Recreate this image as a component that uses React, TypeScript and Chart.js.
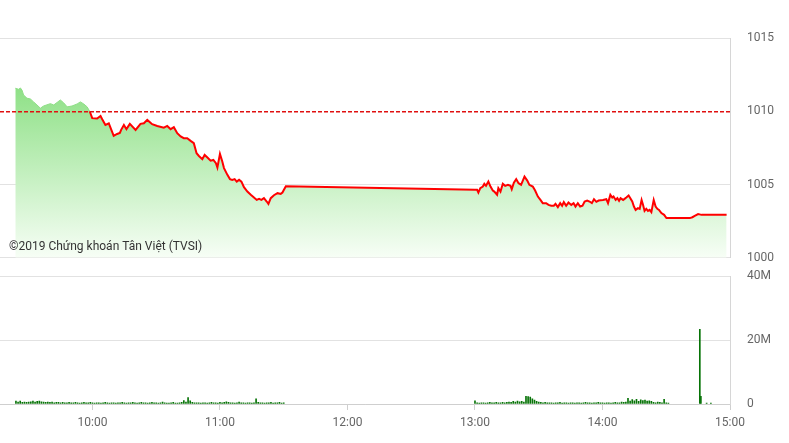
import React, { useEffect, useRef } from "react";
import { Chart, registerables } from "chart.js";

Chart.register(...registerables);

// ---- data ----
const REF_PRICE = 1010;
const X_MIN = 556.5; // minutes after midnight (left edge of plot)
const X_MAX = 900; // 15:00
const hourTicks = [600, 660, 720, 780, 840, 900];
const priceTicks = [1000, 1005, 1010, 1015];
const volTicks = [0, 20, 40];
const WATERMARK = "©2019 Chứng khoán Tân Việt (TVSI)";

// time in minutes after midnight
const priceTimes = [
  563.7, 565.3, 566.1, 566.9, 567.6, 569.2, 570.8, 572.3, 573.9, 575.5, 577.0, 580.2, 581.8, 584.9,
  586.5, 588.1, 590.4, 592.8, 594.3, 595.9, 597.5, 598.7,
  599.9, 602.2, 603.8, 604.6, 606.1, 607.7, 610.0, 611.6, 612.9, 613.5, 614.8, 616.0, 617.6, 620.3,
  622.6, 624.2, 625.8, 628.1, 630.5, 633.6, 635.2, 636.8, 638.3, 639.9, 641.5, 643.0, 644.6, 646.2,
  647.7, 649.0, 650.1, 651.7, 652.8, 654.1, 655.6, 656.9, 658.1, 658.8, 660.0, 661.1, 661.9, 663.5,
  664.7, 665.8, 666.9, 667.9, 669.0, 670.1, 671.3, 672.9, 674.5, 676.0, 677.3, 678.4, 679.5, 680.7,
  682.0, 682.8, 683.9, 685.4, 687.1, 688.6, 689.4, 691.0,
  780.0, 781.0, 781.6, 782.5, 783.7, 784.4, 785.2, 786.3, 787.3, 788.4, 789.1, 790.4, 791.0, 792.0,
  793.1, 794.2, 795.5, 796.7, 797.3, 798.3, 799.4, 800.5, 801.7, 803.3, 804.6, 805.6, 807.2, 808.3,
  809.6, 810.8, 811.9, 813.5, 814.6, 815.9, 817.1, 817.9, 819.0, 820.1, 821.0, 821.8, 822.9, 824.0,
  825.3, 826.4, 827.3, 828.4, 829.5, 830.6, 831.6, 832.8, 833.9, 835.0, 836.0, 837.1, 838.2, 840.2,
  841.8, 842.6, 843.7, 844.6, 845.2, 846.2, 847.0, 847.8, 848.5, 849.7, 850.4, 851.2, 852.3, 853.1,
  854.0, 854.8, 855.6, 856.7, 857.5, 858.4, 859.1, 859.8, 860.6, 861.4, 862.2, 863.0, 864.1, 865.0,
  865.8, 866.6, 867.7, 869.0, 870.1, 871.6, 881.1, 882.3, 883.4, 885.0, 886.6, 898.4,
];

const priceValues = [
  1011.57, 1011.5, 1011.59, 1011.43, 1011.11, 1010.89, 1010.84, 1010.64, 1010.43, 1010.21, 1010.36, 1010.52, 1010.43, 1010.77,
  1010.57, 1010.3, 1010.36, 1010.5, 1010.64, 1010.5, 1010.3, 1010.0,
  1009.53, 1009.5, 1009.68, 1009.46, 1009.07, 1009.18, 1008.32, 1008.45, 1008.52, 1008.73, 1009.07, 1008.78, 1009.14, 1008.73,
  1009.14, 1009.18, 1009.41, 1009.12, 1009.0, 1008.88, 1009.0, 1008.78, 1008.91, 1008.5, 1008.28, 1008.16, 1008.16, 1007.98,
  1007.82, 1007.14, 1006.95, 1006.73, 1007.02, 1006.84, 1006.63, 1006.68, 1006.46, 1006.16, 1007.09, 1006.57, 1006.12, 1005.66,
  1005.37, 1005.32, 1005.37, 1005.2, 1005.32, 1005.2, 1004.82, 1004.52, 1004.3, 1004.11, 1003.95, 1004.02, 1003.95, 1004.07,
  1003.84, 1003.68, 1004.07, 1004.27, 1004.41, 1004.36, 1004.45, 1004.88,
  1004.64, 1004.64, 1004.45, 1004.75, 1004.86, 1005.05, 1004.91, 1005.2, 1004.86, 1004.59, 1004.52, 1004.3, 1004.75, 1004.52,
  1005.05, 1004.91, 1004.98, 1004.91, 1004.68, 1005.13, 1005.37, 1005.09, 1004.98, 1005.54, 1005.27, 1004.98, 1004.86, 1004.59,
  1004.18, 1003.95, 1003.73, 1003.73, 1003.61, 1003.55, 1003.55, 1003.68, 1003.46, 1003.73, 1003.55, 1003.8, 1003.55, 1003.77,
  1003.61, 1003.73, 1003.5, 1003.73, 1003.5, 1003.55, 1003.84, 1003.91, 1003.84, 1003.73, 1004.0, 1003.82, 1003.91, 1003.95,
  1004.0, 1003.73, 1004.3, 1004.11, 1004.18, 1003.95, 1004.07, 1003.89, 1004.07, 1003.95, 1004.02, 1004.11, 1004.25, 1004.07,
  1003.84, 1003.5, 1003.27, 1003.39, 1003.34, 1003.95, 1003.61, 1003.2, 1003.34, 1003.2, 1003.27, 1003.12, 1003.95, 1003.5,
  1003.34, 1003.27, 1003.05, 1002.93, 1002.71, 1002.71, 1002.71, 1002.77, 1002.86, 1002.98, 1002.93, 1002.93,
];

// volume per minute, in millions
const volMorningStart = 564; // 09:24
const volMorning = [
  0.9, 0.6, 0.9, 0.5, 0.6, 0.5, 0.6, 0.7, 0.9, 0.6, 0.8, 0.9,
  0.7, 0.6, 0.5, 0.6, 0.5, 0.6, 0.4, 0.5, 0.5, 0.4, 0.5, 0.4,
  0.4, 0.5, 0.4, 0.4, 0.5, 0.4, 0.3, 0.4, 0.5, 0.4, 0.4, 0.5,
  0.4, 0.3, 0.4, 0.4, 0.3, 0.4, 0.5, 0.4, 0.3, 0.4, 0.4, 0.3,
  0.4, 0.4, 0.5, 0.4, 0.3, 0.4, 0.4, 0.5, 0.4, 0.3, 0.4, 0.5,
  0.4, 0.4, 0.3, 0.4, 0.5, 0.4, 0.4, 0.3, 0.4, 0.6, 0.4, 0.3,
  0.3, 0.4, 0.5, 0.3, 0.3, 0.4, 0.5, 1.1, 0.6, 2.0, 1.0, 0.5,
  0.4, 0.4, 0.4, 0.3, 0.4, 0.4, 0.3, 0.4, 0.5, 0.4, 0.4, 0.3,
  0.5, 0.4, 0.5, 0.7, 0.5, 0.4, 0.4, 0.3, 0.4, 0.6, 0.4, 0.4,
  0.3, 0.4, 0.4, 0.3, 0.4, 1.6, 0.5, 0.4, 0.4, 0.3, 0.4, 0.4,
  0.5, 0.3, 0.4, 0.4, 0.5, 0.3, 0.4,
];
const volAfternoonStart = 780; // 13:00
const volAfternoon = [
  1.0, 0.4, 0.3, 0.4, 0.4, 0.3, 0.4, 0.5, 0.4, 0.4, 0.5, 0.4,
  0.4, 0.5, 0.4, 0.5, 0.6, 0.5, 0.8, 0.6, 0.9, 0.7, 0.8, 0.6,
  2.4, 2.3, 2.2, 1.6, 1.2, 0.8, 0.6, 0.5, 0.4, 0.5, 0.4, 0.4,
  0.4, 0.3, 0.4, 0.4, 0.5, 0.3, 0.4, 0.4, 0.3, 0.4, 0.4, 0.3,
  0.4, 0.4, 0.3, 0.4, 0.5, 0.4, 0.4, 0.3, 0.4, 0.4, 0.5, 0.4,
  0.4, 0.3, 0.4, 0.4, 0.3, 0.4, 0.5, 0.4, 0.4, 0.6, 0.5, 0.6,
  1.8, 0.9, 1.4, 1.0, 1.5, 0.8, 1.3, 1.1, 1.2, 0.9, 1.0, 0.8,
  0.5, 0.4, 0.6, 0.5, 0.4, 1.5, 0.4, 0.3,
];
const volAtcTimes = [885.8, 886.3, 889, 891];
const volAtc = [23.4, 2.4, 0.3, 0.3];

// ---- helpers ----
const fmtTime = (v: number) => `${Math.floor(v / 60)}:${String(Math.round(v % 60)).padStart(2, "0")}`;
const FONT = { family: "Roboto", size: 12 };
const TICK_COLOR = "#666";
const GRID_COLOR = "#e2e2e2";
const BORDER_COLOR = "#d6d6d6";
const AXIS_W = 59;

const pricePoints = priceTimes.map((t, i) => ({ x: t, y: priceValues[i] }));
const volPoints = [
  ...volMorning.map((v, i) => ({ x: volMorningStart + i, y: v })),
  ...volAfternoon.map((v, i) => ({ x: volAfternoonStart + i, y: v })),
  ...volAtc.map((v, i) => ({ x: volAtcTimes[i], y: v })),
];

const overlayPlugin = {
  id: "overlay",
  afterDatasetsDraw(chart: any) {
    const { ctx, chartArea, scales } = chart;
    const y = scales.y.getPixelForValue(REF_PRICE) + 0.5;
    ctx.save();
    ctx.strokeStyle = "#e01010";
    ctx.lineWidth = 1.5;
    ctx.setLineDash([4, 2]);
    ctx.beginPath();
    ctx.moveTo(chartArea.left, y);
    ctx.lineTo(chartArea.right, y);
    ctx.stroke();
    ctx.setLineDash([]);
    ctx.fillStyle = "#333";
    ctx.font = "12px Roboto";
    ctx.textBaseline = "middle";
    ctx.textAlign = "left";
    ctx.fillText(WATERMARK, 9, 247);
    ctx.restore();
  },
};

export default function App() {
  const topRef = useRef<HTMLCanvasElement>(null);
  const botRef = useRef<HTMLCanvasElement>(null);

  useEffect(() => {
    const top = new Chart(topRef.current!, {
      type: "line",
      data: {
        datasets: [
          {
            // price line, green above the reference price, red below
            data: pricePoints,
            borderWidth: 2,
            pointRadius: 0,
            tension: 0,
            fill: false,
            borderColor: "#ff0000",
            segment: {
              borderColor: (c: any) =>
                c.p0.parsed.y >= REF_PRICE && c.p1.parsed.y >= REF_PRICE ? "#8ede86" : "#ff0000",
              borderWidth: (c: any) =>
                c.p0.parsed.y >= REF_PRICE && c.p1.parsed.y >= REF_PRICE ? 1 : 2,
            },
          } as any,
          {
            // area under the price line
            data: pricePoints,
            borderWidth: 0,
            pointRadius: 0,
            tension: 0,
            fill: "start",
            borderColor: "rgba(0,0,0,0)",
            backgroundColor: (c: any) => {
              const ca = c.chart.chartArea;
              if (!ca) return "rgba(140,225,130,0.5)";
              const g = c.chart.ctx.createLinearGradient(0, ca.top, 0, ca.bottom);
              g.addColorStop(0, "rgb(112,216,102)");
              g.addColorStop(1, "rgb(247,254,246)");
              return g;
            },
          } as any,
        ],
      },
      options: {
        animation: false,
        responsive: false,
        events: [],
        layout: { padding: { top: 38, bottom: 0, left: 0, right: 0 } },
        plugins: { legend: { display: false }, tooltip: { enabled: false } },
        scales: {
          x: { type: "linear", min: X_MIN, max: X_MAX, display: false },
          y: {
            position: "right",
            min: 1000,
            max: 1015,
            afterBuildTicks: (s: any) => {
              s.ticks = priceTicks.map((v) => ({ value: v }));
            },
            afterFit: (s: any) => {
              s.width = AXIS_W;
            },
            grid: {
              color: (c: any) => (c.tick && c.tick.value === REF_PRICE ? "rgba(0,0,0,0)" : GRID_COLOR),
              drawTicks: false,
            },
            border: { display: true, color: BORDER_COLOR },
            ticks: {
              padding: 17,
              color: TICK_COLOR,
              font: FONT,
              callback: (v: any) => String(v),
            },
          },
        },
      } as any,
      plugins: [overlayPlugin],
    });

    const bot = new Chart(botRef.current!, {
      type: "bar",
      data: {
        datasets: [
          {
            data: volPoints,
            backgroundColor: "#077307",
            borderWidth: 0,
            barThickness: 1,
          } as any,
        ],
      },
      options: {
        animation: false,
        responsive: false,
        events: [],
        layout: { padding: { top: 0, bottom: 0, left: 0, right: 0 } },
        plugins: { legend: { display: false }, tooltip: { enabled: false } },
        scales: {
          x: {
            type: "linear",
            min: X_MIN,
            max: X_MAX,
            offset: false,
            afterBuildTicks: (s: any) => {
              s.ticks = hourTicks.map((v) => ({ value: v }));
            },
            afterFit: (s: any) => {
              s.height = 39;
            },
            grid: {
              offset: false,
              drawOnChartArea: false,
              drawTicks: true,
              tickLength: 6,
              color: "#cfcfcf",
            },
            border: { display: true, color: "#cfcfcf" },
            ticks: {
              padding: 6,
              color: TICK_COLOR,
              font: FONT,
              maxRotation: 0,
              autoSkip: false,
              callback: (v: any) => fmtTime(Number(v)),
            },
          },
          y: {
            position: "right",
            min: 0,
            max: 40,
            afterBuildTicks: (s: any) => {
              s.ticks = volTicks.map((v) => ({ value: v }));
            },
            afterFit: (s: any) => {
              s.width = AXIS_W;
            },
            grid: { color: GRID_COLOR, drawTicks: false },
            border: { display: true, color: BORDER_COLOR },
            ticks: {
              padding: 17,
              color: TICK_COLOR,
              font: FONT,
              callback: (v: any) => (Number(v) === 0 ? "0" : `${v}M`),
            },
          },
        },
      } as any,
    });

    return () => {
      top.destroy();
      bot.destroy();
    };
  }, []);

  // Chart.js reserves (label half-height + tick padding) = 24px above and below a vertical axis,
  // so the canvases are sized to put the plot areas at y 38..258 and 276..404.
  return (
    <div style={{ position: "absolute", left: 0, top: 0, width: 789, height: 443, background: "#fff" }}>
      <canvas
        ref={botRef}
        width={789}
        height={191}
        style={{ position: "absolute", left: 0, top: 252, width: 789, height: 191, display: "block" }}
      />
      <canvas
        ref={topRef}
        width={789}
        height={282}
        style={{ position: "absolute", left: 0, top: 0, width: 789, height: 282, display: "block" }}
      />
    </div>
  );
}
